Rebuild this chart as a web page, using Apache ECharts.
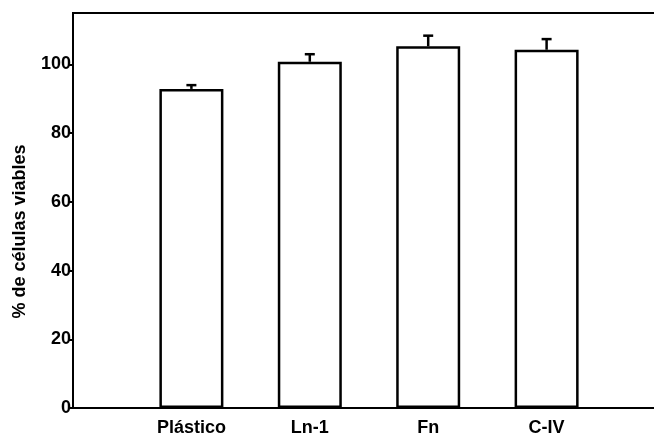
<!DOCTYPE html>
<html>
<head>
<meta charset="utf-8">
<script src="https://cdn.jsdelivr.net/npm/echarts@6/dist/echarts.min.js"></script>
<style>
  html, body { margin: 0; padding: 0; background: #fff; overflow: hidden; }
  #chart { width: 654px; height: 441px; }
</style>
</head>
<body>
<div id="chart"></div>
<script>
// Cell viability (%) on each substrate, mean and upper error
const categories = ['Plástico', 'Ln-1', 'Fn', 'C-IV'];
const viability = [92.9, 100.8, 105.3, 104.3];
const errors = [1.1, 2.2, 3.1, 3.1];
const yTicks = [0, 20, 40, 60, 80, 100];

// Empty slots at both ends leave room between the axis and the first bar
const axisCategories = [''].concat(categories, ['']);
const barData = [null].concat(viability, [null]);
const errData = categories.map((c, i) => [i + 1, viability[i], viability[i] + errors[i]]);

const font = 'Liberation Sans, Arial, Helvetica, sans-serif';
const chart = echarts.init(document.getElementById('chart'), null, { renderer: 'canvas' });

chart.setOption({
  animation: false,
  backgroundColor: '#fff',
  grid: {
    left: 73, top: 13, width: 592, bottom: 33,
    outerBoundsMode: 'none',
    containLabel: false,
    show: true, borderColor: '#000', borderWidth: 2, backgroundColor: 'transparent'
  },
  xAxis: {
    type: 'category',
    data: axisCategories,
    boundaryGap: false,
    axisLine: { lineStyle: { color: '#000', width: 2 } },
    axisTick: { show: false },
    splitLine: { show: false },
    axisLabel: { color: '#000', fontFamily: font, fontSize: 18, fontWeight: 'bold', margin: 11 }
  },
  yAxis: {
    type: 'value',
    min: 0, max: 115,
    name: '% de células viables',
    nameLocation: 'middle',
    nameGap: 44,
    nameRotate: 90,
    nameTextStyle: { color: '#000', fontFamily: font, fontSize: 18, fontWeight: 'bold', padding: [0, 42, 0, 0] },
    axisLine: { show: true, lineStyle: { color: '#000', width: 2 } },
    axisTick: { show: true, length: 5, lineStyle: { color: '#000', width: 2 }, customValues: yTicks },
    axisLabel: { color: '#000', fontFamily: font, fontSize: 18, fontWeight: 'bold', margin: 2, customValues: yTicks },
    splitLine: { show: false }
  },
  series: [
    {
      type: 'bar',
      data: barData,
      barWidth: 64,
      itemStyle: { color: '#fff', borderColor: '#000', borderWidth: 2.5 },
      z: 2
    },
    {
      type: 'custom',
      data: errData,
      z: 3,
      renderItem: function (params, api) {
        const x = api.value(0);
        const top = api.coord([x, api.value(2)]);
        const base = api.coord([x, api.value(1)]);
        const half = 5;
        const style = { stroke: '#000', lineWidth: 2.5, fill: null };
        return {
          type: 'group',
          children: [
            { type: 'line', shape: { x1: top[0], y1: base[1], x2: top[0], y2: top[1] }, style: style },
            { type: 'line', shape: { x1: top[0] - half, y1: top[1], x2: top[0] + half, y2: top[1] }, style: style }
          ]
        };
      }
    }
  ]
});
</script>
</body>
</html>
